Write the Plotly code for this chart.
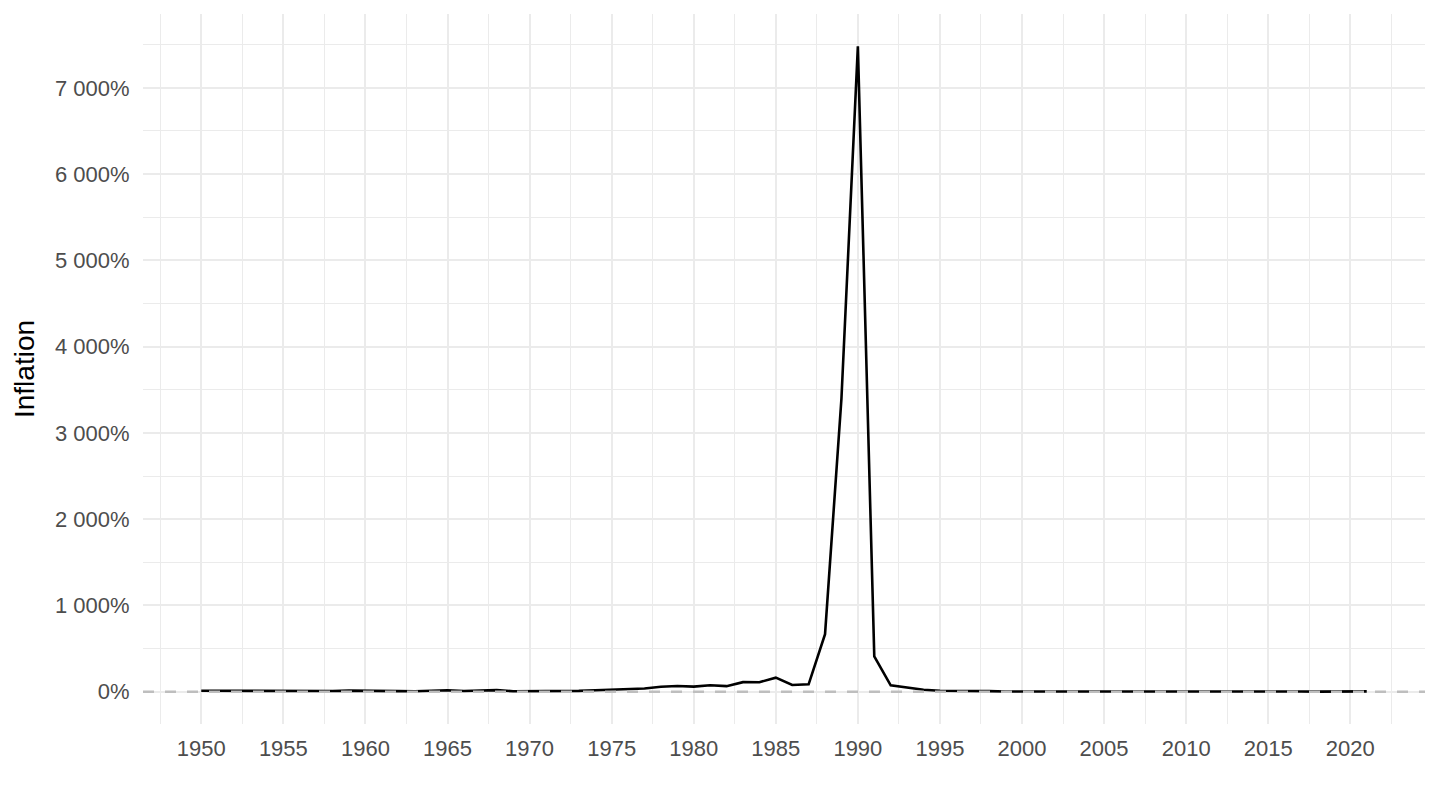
import plotly.graph_objects as go

# Annual CPI inflation, %
years = list(range(1950, 2022))
inflation = [
    10.6, 10.2, 7.0, 8.9, 5.3, 4.6, 5.5, 7.4, 8.0, 12.6,
    8.7, 6.0, 6.6, 6.0, 10.0, 16.3, 8.9, 9.8, 19.1, 6.3,
    5.0, 6.8, 7.2, 9.5, 16.9, 23.6, 33.5, 38.1, 57.8, 66.7,
    59.2, 75.4, 64.4, 111.1, 110.2, 163.4, 77.9, 85.8, 667.0, 3398.7,
    7481.7, 409.5, 73.5, 48.6, 23.7, 11.1, 11.5, 8.5, 7.3, 3.5,
    3.8, 2.0, 0.2, 2.3, 3.7, 1.6, 2.0, 1.8, 5.8, 2.9,
    1.5, 3.4, 3.7, 2.8, 3.2, 3.6, 3.6, 2.8, 1.3, 2.1,
    1.8, 4.0,
]

FONT = "Liberation Sans, Arial, sans-serif"
GRID = "#EBEBEB"

fig = go.Figure()
fig.add_trace(
    go.Scatter(
        x=years,
        y=inflation,
        mode="lines",
        line={"color": "black", "width": 2.6},
        hovertemplate="%{x}: %{y:.1f}%<extra></extra>",
        showlegend=False,
    )
)

# dashed reference line at 0, drawn over the series like geom_hline
fig.add_shape(
    type="line",
    xref="x domain", x0=0, x1=1,
    yref="y", y0=0, y1=0,
    line={"color": "#BEBEBE", "width": 2.6, "dash": "11px,11px"},
    layer="above",
)

span_x = years[-1] - years[0]
ymax = max(inflation)
ymin = min(0, min(inflation))
span_y = ymax - ymin

# page body has an 8px margin, so the figure is a bit smaller than the window
fig.update_layout(
    width=1424,
    height=794,
    plot_bgcolor="white",
    paper_bgcolor="white",
    margin={"l": 135, "r": 7, "t": 6, "b": 78},
    separators=". ",
    font={"family": FONT, "size": 22, "color": "#4D4D4D"},
    xaxis={
        "range": [years[0] - 0.05 * span_x, years[-1] + 0.05 * span_x],
        "tick0": 1950,
        "dtick": 5,
        "showgrid": True,
        "gridcolor": GRID,
        "gridwidth": 2.4,
        "minor": {"dtick": 2.5, "showgrid": True, "gridcolor": GRID, "gridwidth": 1.2},
        "zeroline": False,
        "showline": False,
        "ticks": "outside",
        "ticklen": 5,
        "tickcolor": "rgba(0,0,0,0)",
        "tickfont": {"size": 22, "color": "#4D4D4D"},
    },
    yaxis={
        "range": [ymin - 0.05 * span_y, ymax + 0.05 * span_y],
        "tick0": 0,
        "dtick": 1000,
        "tickformat": ",d",
        "ticksuffix": "%",
        "showgrid": True,
        "gridcolor": GRID,
        "gridwidth": 2.4,
        "minor": {"dtick": 500, "showgrid": True, "gridcolor": GRID, "gridwidth": 1.2},
        "zeroline": False,
        "showline": False,
        "ticks": "outside",
        "ticklen": 8,
        "tickcolor": "rgba(0,0,0,0)",
        "tickfont": {"size": 22, "color": "#4D4D4D"},
        "title": {"text": "Inflation", "font": {"size": 28, "color": "black"}, "standoff": 12},
    },
)

fig.write_html("out.html")
